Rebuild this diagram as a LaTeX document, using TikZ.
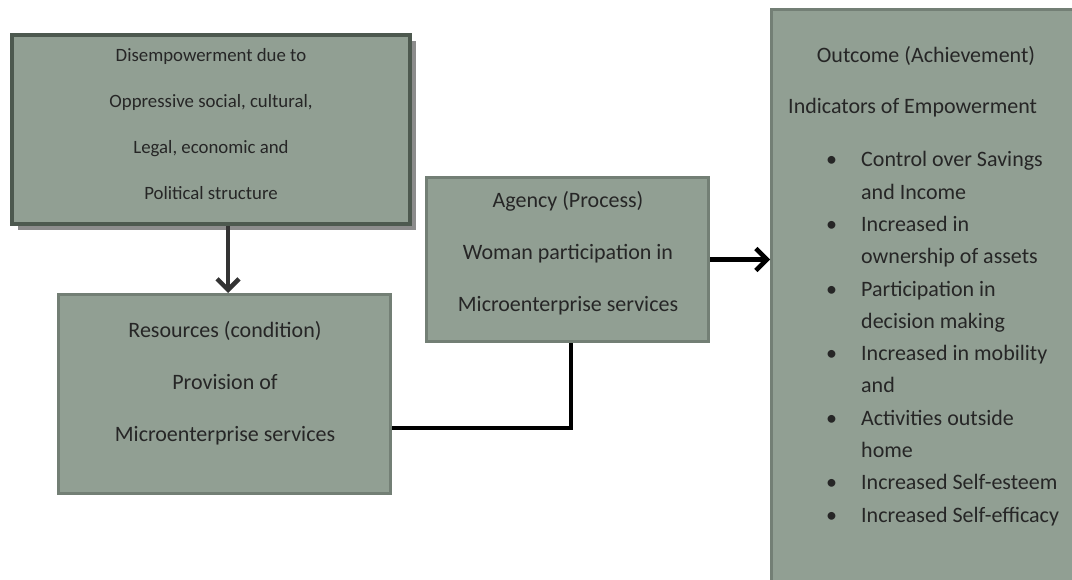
\documentclass[tikz,border=0pt]{standalone}
\usepackage{fontspec}
\setmainfont{Carlito}
\usetikzlibrary{arrows.meta,shadows}
\definecolor{boxfill}{HTML}{919F93}
\definecolor{boxline}{HTML}{737F75}
\definecolor{darkline}{HTML}{4D594F}
\definecolor{shade}{HTML}{8C8C8C}
\begin{document}
\begin{tikzpicture}[x=1pt, y=-1pt,
  box/.style={draw=boxline, fill=boxfill, line width=3pt, inner sep=0pt},
  txt/.style={inner sep=0pt, text=black!85, align=center, font=\fontsize{22}{52}\selectfont},
  conn/.style={line width=4.5pt, -{Straight Barb[length=11pt,width=22pt]}}]
  \useasboundingbox (0,0) rectangle (1072,580);
  % boxes
  \node[box, draw=darkline, line width=4pt, minimum width=398pt, minimum height=189pt,
    drop shadow={shadow xshift=6pt, shadow yshift=-6pt, fill=shade, opacity=1}] (disemp) at (211,129.5) {};
  \node[box, minimum width=332pt, minimum height=199pt] (res) at (224.5,394) {};
  \node[box, minimum width=282pt, minimum height=164pt] (agency) at (567.5,259.5) {};
  \node[box, minimum width=328.5pt, minimum height=590.5pt] (outcome) at (935.75,304.75) {};
  % texts
  \node[txt, font=\fontsize{18.8}{46}\selectfont] (disempText) at (211,124)
    {Disempowerment due to\\Oppressive social, cultural,\\Legal, economic and\\Political structure};
  \node[txt] (resText) at (225,383) {Resources (condition)\\Provision of\\Microenterprise services};
  \node[txt] (agencyText) at (568,253) {Agency (Process)\\Woman participation in\\Microenterprise services};
  \node[txt] (outcomeTitle) at (926,56) {Outcome (Achievement)};
  \node[txt, anchor=west] (indicators) at (788,108) {Indicators of Empowerment};
  \node[inner sep=0pt, text=black!85, anchor=north west, font=\fontsize{22}{32.3}\selectfont] (items) at (826,144)
    {\begin{tabular}{@{}p{35pt}@{}l@{}}
      \textbullet & Control over Savings\\
                  & and Income\\
      \textbullet & Increased in\\
                  & ownership of assets\\
      \textbullet & Participation in\\
                  & decision making\\
      \textbullet & Increased in mobility\\
                  & and\\
      \textbullet & Activities outside\\
                  & home\\
      \textbullet & Increased Self-esteem\\
      \textbullet & Increased Self-efficacy
    \end{tabular}};
  % connectors
  \draw[conn, draw=black!80] ([xshift=3.5pt]res.north |- disemp.south) -- ([xshift=3.5pt]res.north);
  \draw[line width=4pt] ([yshift=-34pt]res.east) -| ([xshift=3.5pt]agency.south);
  \draw[conn] (agency.east) -- (agency.east -| outcome.west);
\end{tikzpicture}
\end{document}
